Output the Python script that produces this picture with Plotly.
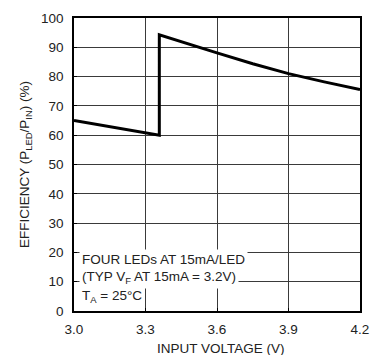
import plotly.graph_objects as go

# Efficiency vs. input voltage, four white LEDs at 15mA each
input_voltage = [3.0, 3.358, 3.358, 3.45, 3.6, 3.75, 3.9, 4.05, 4.2]
efficiency = [65.0, 60.0, 94.3, 91.9, 88.1, 84.4, 81.0, 78.2, 75.6]

x_ticks = [3.0, 3.3, 3.6, 3.9, 4.2]
x_tick_labels = ["3.0", "3.3", "3.6", "3.9", "4.2"]
y_ticks = list(range(0, 101, 10))

note_lines = [
    "FOUR LEDs AT 15mA/LED",
    "(TYP V<sub>F</sub> AT 15mA = 3.2V)",
    "T<sub>A</sub> = 25°C",
]

FONT = "Liberation Sans, Arial, sans-serif"
FS = 13.5
W, H = 380, 355
ML, MR, MT, MB = 74, 11, 16, 44


def px_to_paper_x(px):
    return (px - ML) / (W - ML - MR)


def px_to_paper_y(py):
    return (H - MB - py) / (H - MT - MB)


fig = go.Figure()
fig.add_trace(go.Scatter(
    x=input_voltage, y=efficiency, mode="lines",
    line=dict(color="black", width=3),
    hoverinfo="skip", showlegend=False,
))

axis_common = dict(
    showgrid=True, gridcolor="#3a3a3a", gridwidth=1,
    showline=True, linecolor="black", linewidth=1.5, mirror=True,
    ticks="inside", ticklen=3, tickcolor="black",
    zeroline=False,
    tickfont=dict(family=FONT, size=FS, color="#222"),
)

fig.update_xaxes(range=[3.0, 4.2], tickvals=x_ticks, ticktext=x_tick_labels,
                 ticklabelstandoff=5, **axis_common)
fig.update_yaxes(range=[0, 100], tickvals=y_ticks,
                 ticklabelstandoff=6, **axis_common)

annotations = []
# note text block, each line on a white backing so it hides the grid
line_centres = [259, 277.5, 296]
for text, cy in zip(note_lines, line_centres):
    annotations.append(dict(
        text=text, xref="paper", yref="paper",
        x=px_to_paper_x(79), y=px_to_paper_y(cy),
        xanchor="left", yanchor="middle", showarrow=False,
        bgcolor="white", borderpad=2,
        font=dict(family=FONT, size=FS, color="#222"),
    ))

# axis titles
annotations.append(dict(
    text="EFFICIENCY (P<sub>LED</sub>/P<sub>IN</sub>) (%)",
    xref="paper", yref="paper",
    x=px_to_paper_x(24), y=px_to_paper_y(163.5),
    xanchor="center", yanchor="middle", textangle=-90, showarrow=False,
    font=dict(family=FONT, size=FS, color="#222"),
))
annotations.append(dict(
    text="INPUT VOLTAGE (V)",
    xref="paper", yref="paper",
    x=px_to_paper_x(226), y=px_to_paper_y(348.5),
    xanchor="center", yanchor="middle", showarrow=False,
    font=dict(family=FONT, size=FS, color="#222"),
))

fig.update_layout(
    width=W, height=H,
    margin=dict(l=ML, r=MR, t=MT, b=MB),
    paper_bgcolor="white", plot_bgcolor="white",
    annotations=annotations,
)

fig.write_html("out.html")
